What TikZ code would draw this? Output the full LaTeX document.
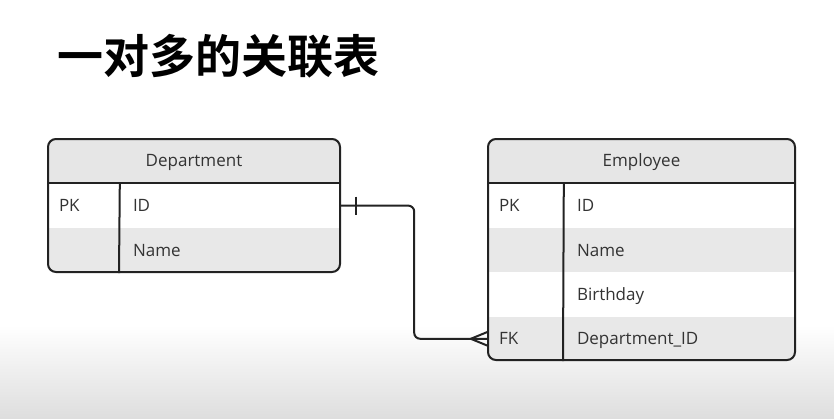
\documentclass[tikz,border=0pt]{standalone}
\usepackage{fontspec}
\setmainfont{Open Sans}
\newfontfamily\cjk{Noto Sans CJK SC}[BoldFont={Noto Sans CJK SC Bold}]
\usetikzlibrary{positioning, calc, backgrounds}
\definecolor{erline}{RGB}{34,34,34}
\definecolor{ertext}{RGB}{51,51,51}
\definecolor{erhead}{RGB}{230,230,230}
\definecolor{erstripe}{RGB}{232,232,232}
\definecolor{erfade}{RGB}{222,222,222}
\tikzset{
    tablebox/.style={draw=erline, line width=2pt, rounded corners=8pt, inner sep=0pt, anchor=north west},
    headrow/.style={fill=erhead, inner sep=0pt, minimum height=45pt, anchor=north,
                    font=\fontsize{17}{20}\selectfont, text=ertext, text height=13pt, text depth=1pt},
    plainrow/.style={fill=white, inner sep=0pt, minimum height=44pt},
    striperow/.style={plainrow, fill=erstripe},
    cell/.style={inner sep=0pt, anchor=west, font=\fontsize{17}{20}\selectfont, text=ertext,
                 text height=13pt, text depth=1pt},
    divider/.style={draw=erline, line width=2pt},
    relline/.style={draw=erline, line width=2pt, rounded corners=6pt},
}
\begin{document}
\begin{tikzpicture}[x=1pt, y=-1pt, node distance=0pt]
    \useasboundingbox (0,0) rectangle (834,418);
    % title
    \node[anchor=base west, inner sep=0pt, font=\cjk\bfseries\fontsize{46}{50}\selectfont] (title) at (57,73) {一对多的关联表};
    % tables
    \node[tablebox, minimum width=292pt, minimum height=133pt] (dept) at (47,138) {};
    \node[tablebox, minimum width=307pt, minimum height=221pt] (emp) at (487,138) {};
    \begin{scope}[on background layer]
        \fill[white] (0,0) rectangle (834,418);
        \shade[top color=white, bottom color=erfade] (0,325) rectangle (834,418);
        \begin{scope}
            \clip[rounded corners=8pt] (dept.north west) rectangle (dept.south east);
            \node[headrow, minimum width=292pt] (depthead) at (dept.north) {Department};
            \node[plainrow, minimum width=292pt, below=of depthead] (deptid) {};
            \node[striperow, minimum width=292pt, below=of deptid] (deptname) {};
        \end{scope}
        \begin{scope}
            \clip[rounded corners=8pt] (emp.north west) rectangle (emp.south east);
            \node[headrow, minimum width=307pt] (emphead) at (emp.north) {Employee};
            \node[plainrow, minimum width=307pt, below=of emphead] (empid) {};
            \node[striperow, minimum width=307pt, below=of empid] (empname) {};
            \node[plainrow, minimum width=307pt, below=of empname] (empbirth) {};
            \node[striperow, minimum width=307pt, below=of empbirth] (empfk) {};
        \end{scope}
    \end{scope}
    \draw[divider] (depthead.south west) -- (depthead.south east);
    \draw[divider] ($(depthead.south west)+(72,0)$) -- ($(dept.south west)+(72,0)$);
    \draw[divider] (emphead.south west) -- (emphead.south east);
    \draw[divider] ($(emphead.south west)+(76,0)$) -- ($(emp.south west)+(76,0)$);
    % fields
    \node[cell] (deptpk) at ($(deptid.west)+(11,0)$) {PK};
    \node[cell] (deptidtxt) at ($(deptid.west)+(85,0)$) {ID};
    \node[cell] (deptnametxt) at ($(deptname.west)+(85,0)$) {Name};
    \node[cell] (emppk) at ($(empid.west)+(11,0)$) {PK};
    \node[cell] (empidtxt) at ($(empid.west)+(89,0)$) {ID};
    \node[cell] (empnametxt) at ($(empname.west)+(89,0)$) {Name};
    \node[cell] (empbirthtxt) at ($(empbirth.west)+(89,0)$) {Birthday};
    \node[cell] (empfkkey) at ($(empfk.west)+(11,0)$) {FK};
    \node[cell] (empfktxt) at ($(empfk.west)+(89,0)$) {Department\_ID};
    % relation
    \draw[relline] (deptid.east) -- ++(74,0) |- (empfk.west);
    \draw[relline] ($(deptid.east)+(16,-9)$) -- ($(deptid.east)+(16,9)$);
    \draw[relline, rounded corners=0pt] ($(empfk.west)+(0,-7)$) -- ($(empfk.west)+(-17,0)$) -- ($(empfk.west)+(0,7)$);
\end{tikzpicture}
\end{document}
